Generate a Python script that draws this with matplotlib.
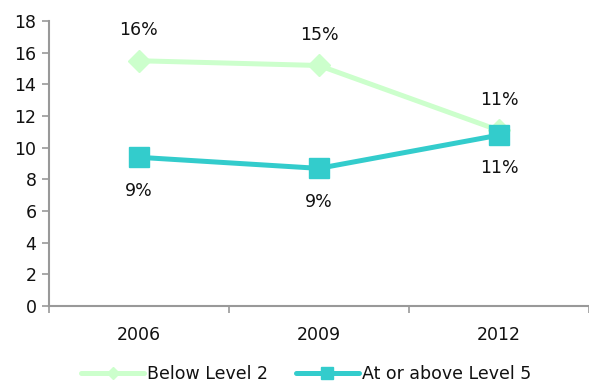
import matplotlib
matplotlib.use("Agg")
import matplotlib.pyplot as plt
from matplotlib.ticker import FixedLocator

years = ["2006", "2009", "2012"]
below_level2 = [15.5, 15.2, 11.1]
above_level5 = [9.4, 8.7, 10.8]
below_labels = ["16%", "15%", "11%"]
above_labels = ["9%", "9%", "11%"]

plt.rcParams['font.family'] = ['DejaVu Sans']
fs = 12.5
fig = plt.figure(figsize=(5.89, 3.85), dpi=100)
ax = fig.add_axes([0.083, 0.205, 0.917, 0.74])

x = list(range(len(years)))
ax.plot(x, below_level2, color="#CCFFCC", lw=3.6, marker="D", markersize=11,
        label="Below Level 2", solid_capstyle="round")
ax.plot(x, above_level5, color="#33CCCC", lw=3.6, marker="s", markersize=14,
        label="At or above Level 5", solid_capstyle="round")

for xi, v, t in zip(x, below_level2, below_labels):
    ax.annotate(t, (xi, v), xytext=(0, 22), textcoords="offset points",
                ha="center", va="center", fontsize=fs, color="#111111")
for xi, v, t in zip(x, above_level5, above_labels):
    ax.annotate(t, (xi, v), xytext=(0, -24), textcoords="offset points",
                ha="center", va="center", fontsize=fs, color="#111111")

ax.set_xlim(-0.5, 2.5)
ax.set_ylim(0, 18)
ax.set_yticks(range(0, 19, 2))
ax.set_xticks(x)
ax.set_xticklabels(years)
ax.xaxis.set_minor_locator(FixedLocator([-0.5, 0.5, 1.5, 2.5]))
ax.tick_params(axis="x", which="major", length=0, pad=14, labelsize=fs, labelcolor="#111111")
ax.tick_params(axis="x", which="minor", length=5, color="#999999", width=1.2)
ax.tick_params(axis="y", length=5, color="#999999", width=1.2, labelsize=fs, pad=4,
               labelcolor="#111111")

for s in ["top", "right"]:
    ax.spines[s].set_visible(False)
for s in ["left", "bottom"]:
    ax.spines[s].set_color("#999999")
    ax.spines[s].set_linewidth(1.5)

leg = fig.legend(loc="lower center", bbox_to_anchor=(0.52, -0.035), ncol=2, frameon=False,
                 fontsize=fs, handlelength=3.6, columnspacing=1.6, handletextpad=0.2,
                 markerscale=0.6)
for t in leg.get_texts():
    t.set_color("#111111")
fig.savefig("out.png", dpi=100)
